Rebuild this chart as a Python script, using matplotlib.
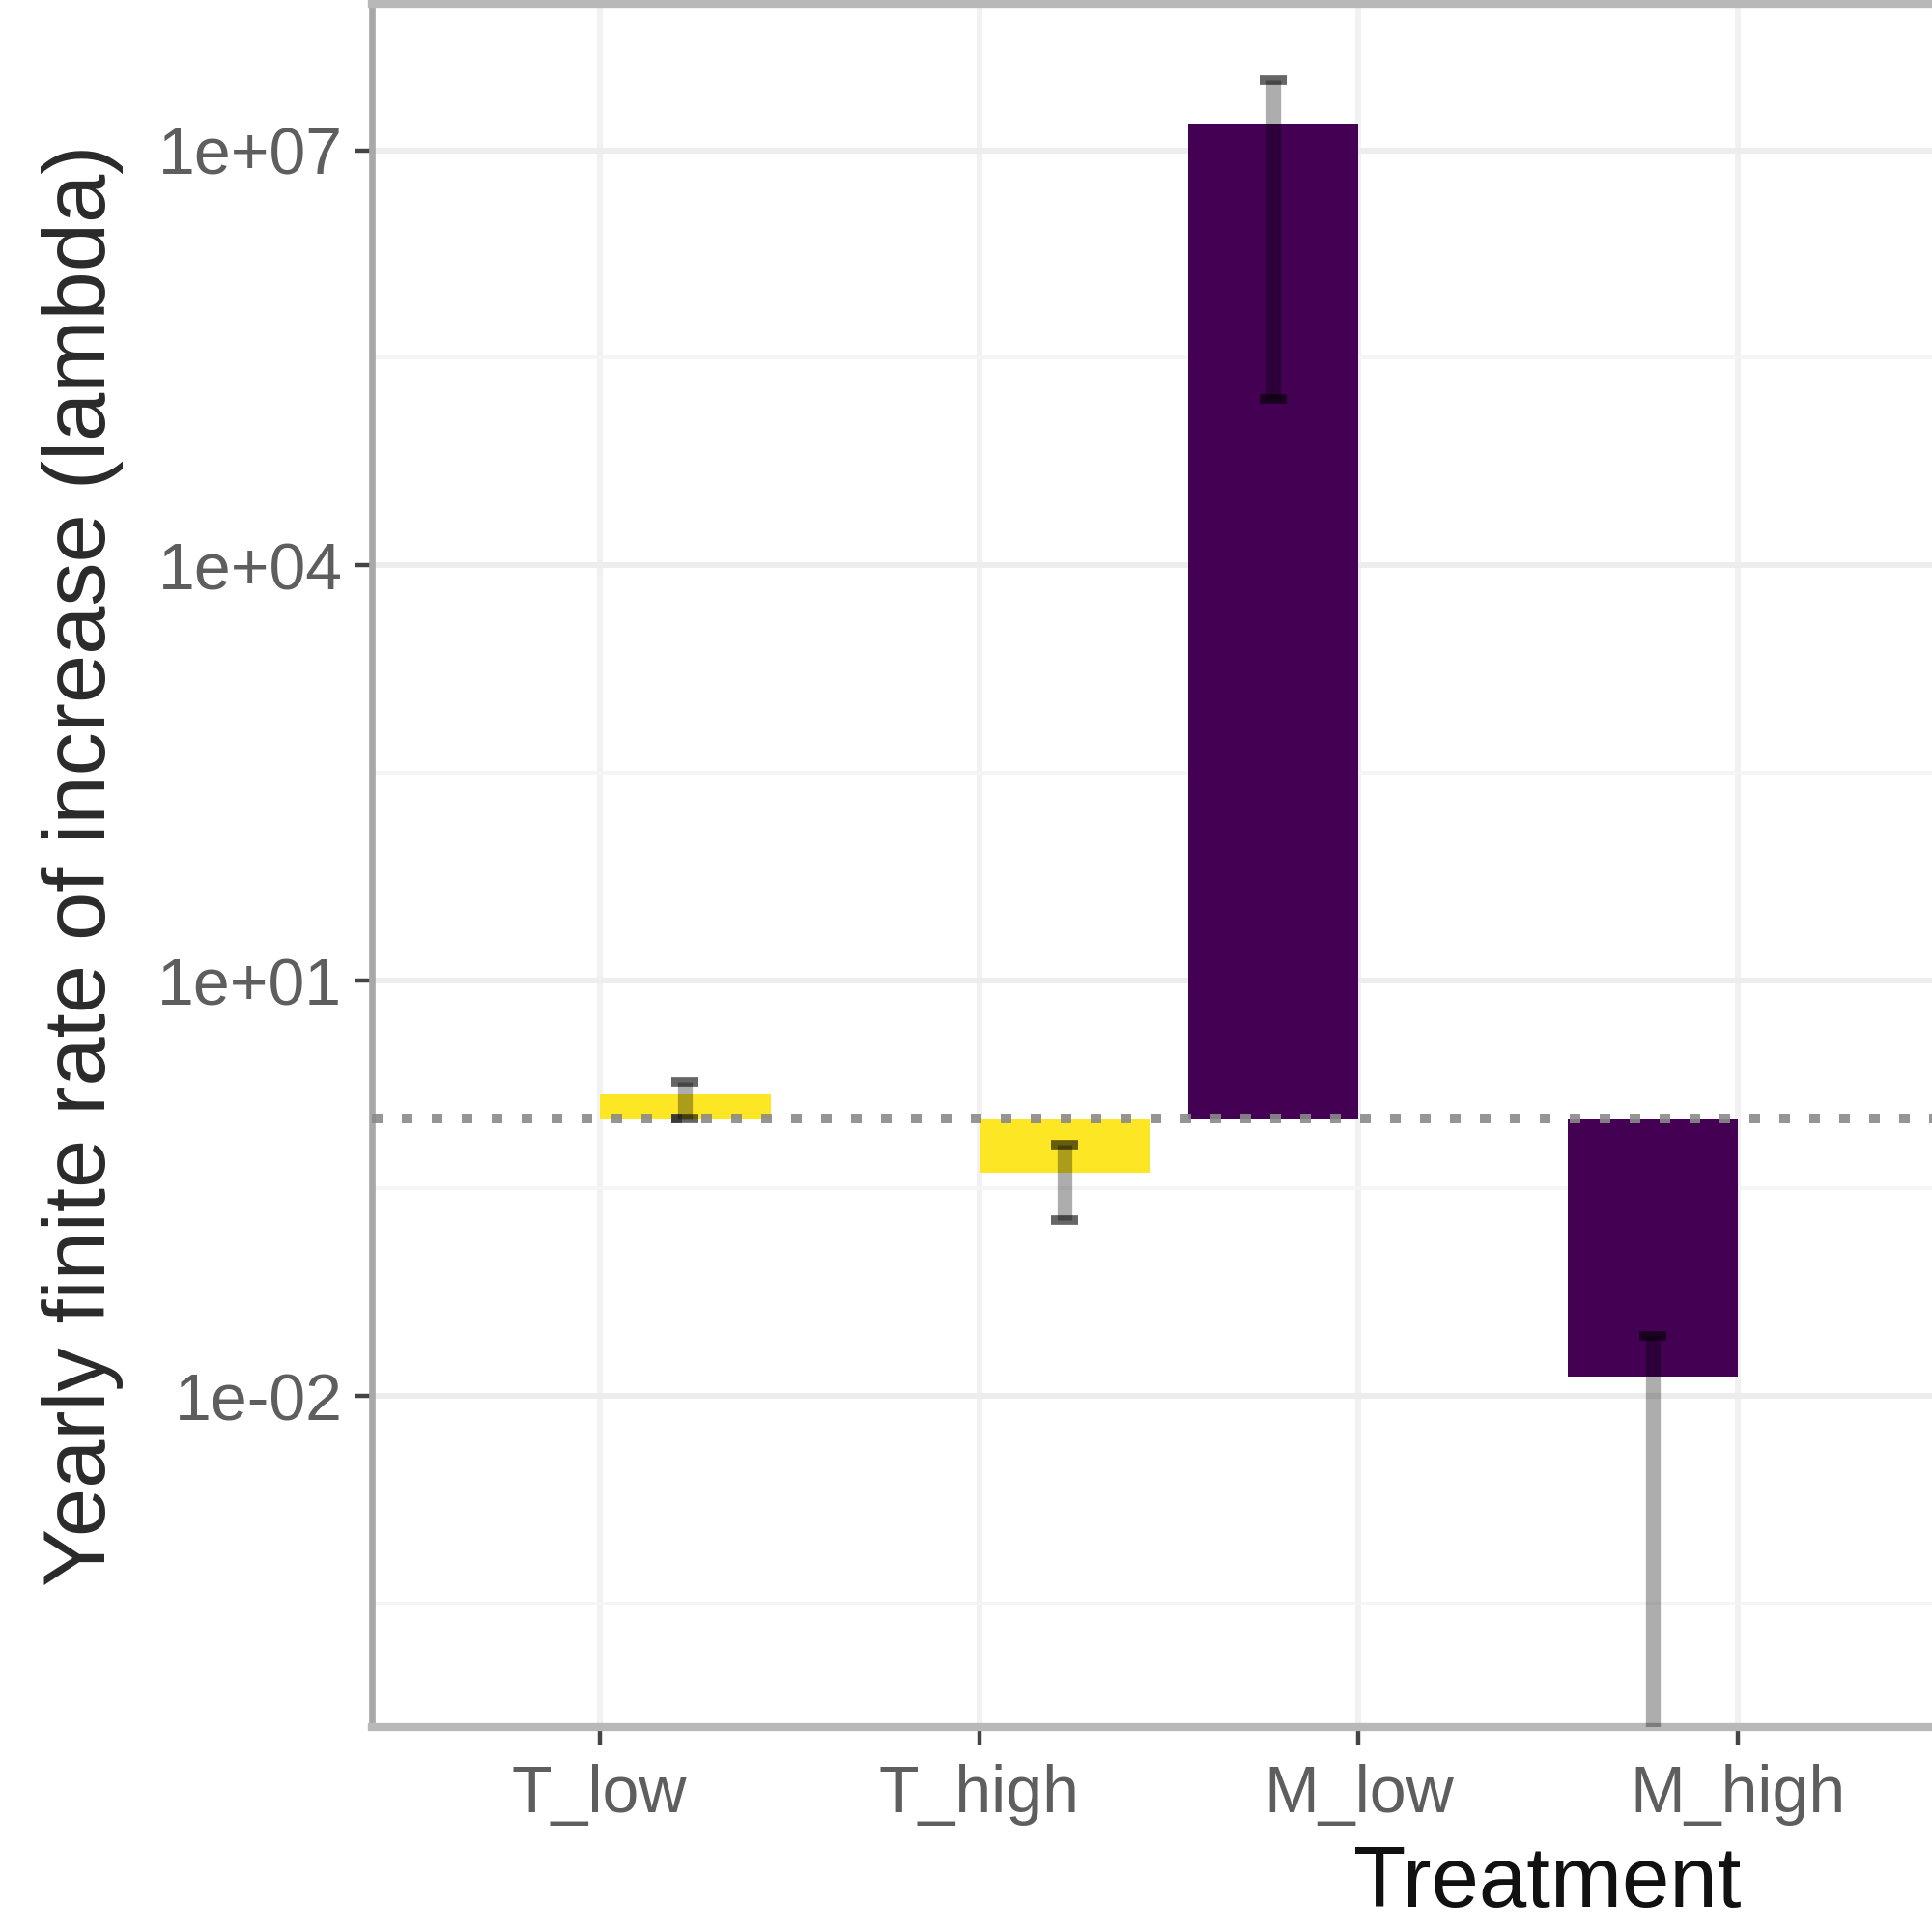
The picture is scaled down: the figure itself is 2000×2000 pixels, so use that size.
import numpy as np
import matplotlib
matplotlib.use("Agg")
import matplotlib.pyplot as plt
from matplotlib.ticker import FixedLocator, NullFormatter

plt.rcParams['font.family'] = ['Liberation Sans', 'DejaVu Sans']

# ---- data ----
categories = ["T_low", "T_high", "M_low", "M_high"]
groups = ["T", "T", "M", "M"]                 # fill group (dodged)
lambda_mean = [1.5, 0.41, 1.57e7, 0.0139]
err_lower = [1.0, 0.185, 1.6e5, 1e-12]        # M_high lower bound runs off the panel
err_upper = [1.85, 0.65, 3.2e7, 0.027]
y_tick_values = [1e-2, 1e1, 1e4, 1e7]
y_tick_labels = ["1e-02", "1e+01", "1e+04", "1e+07"]
y_minor_values = [10**-3.5, 10**-0.5, 10**2.5, 10**5.5]
reference_line = 1.0

group_colors = {"M": "#440154", "T": "#FDE725"}
group_offsets = {"M": -0.225, "T": 0.225}
bar_width = 0.45

fig = plt.figure(figsize=(10, 10), dpi=200)
ax = fig.add_axes([0.1925, 0.106, 0.825, 0.892])
ax.set_yscale('log')

x = np.arange(len(categories))
xb = np.array([xi + group_offsets[g] for xi, g in zip(x, groups)])
cols = [group_colors[g] for g in groups]
mean = np.array(lambda_mean)

ax.bar(xb, mean - reference_line, bottom=reference_line, width=bar_width,
       color=cols, linewidth=0, zorder=3)

ax.axhline(reference_line, color='#8a8a8a', lw=3.6, linestyle=(0, (1.1, 2.0)),
           dash_capstyle='butt', alpha=0.9, zorder=4)

# error bars
ax.vlines(xb, err_lower, err_upper, color='black', alpha=0.32, lw=5.5, zorder=5)
cap = 0.036
ax.hlines(err_upper, xb - cap, xb + cap, color='black', alpha=0.6, lw=3.5, zorder=5)
ax.hlines(err_lower, xb - cap, xb + cap, color='black', alpha=0.6, lw=3.5, zorder=5)

ax.set_xlim(-0.6, 3.6)
ax.set_ylim(10**-4.394, 10**8.058)

ax.set_xticks(x)
ax.set_xticklabels(categories)
ax.yaxis.set_major_locator(FixedLocator(y_tick_values))
ax.set_yticklabels(y_tick_labels)
ax.yaxis.set_minor_locator(FixedLocator(y_minor_values))
ax.yaxis.set_minor_formatter(NullFormatter())

ax.grid(True, which='major', axis='y', color='#ededed', lw=2.2, zorder=0)
ax.grid(True, which='major', axis='x', color='#f1f1f1', lw=2.2, zorder=0)
ax.grid(True, which='minor', axis='y', color='#f5f5f5', lw=1.4, zorder=0)
ax.set_axisbelow(True)

ax.tick_params(axis='both', which='major', length=6.5, width=1.6, color='#444444',
               labelsize=24.5, labelcolor='#5e5e5e')
ax.tick_params(axis='y', which='major', pad=4.5)
ax.tick_params(axis='x', which='major', pad=7)
ax.tick_params(axis='y', which='minor', length=0)

for s in ax.spines.values():
    s.set_color('#b8b8b8')
    s.set_linewidth(3)
ax.spines['left'].set_color('#a8a8a8')
ax.spines['left'].set_linewidth(2.4)

ax.set_ylabel("Yearly finite rate of increase (lambda)", fontsize=32.5, color='#2a2a2a', va='center')
ax.yaxis.set_label_coords(-0.1818, 0.5)
ax.set_xlabel("Treatment", fontsize=32, color='#111111', va='center')
ax.xaxis.set_label_coords(0.7376, -0.0914)

fig.savefig("out.png", dpi=200)
